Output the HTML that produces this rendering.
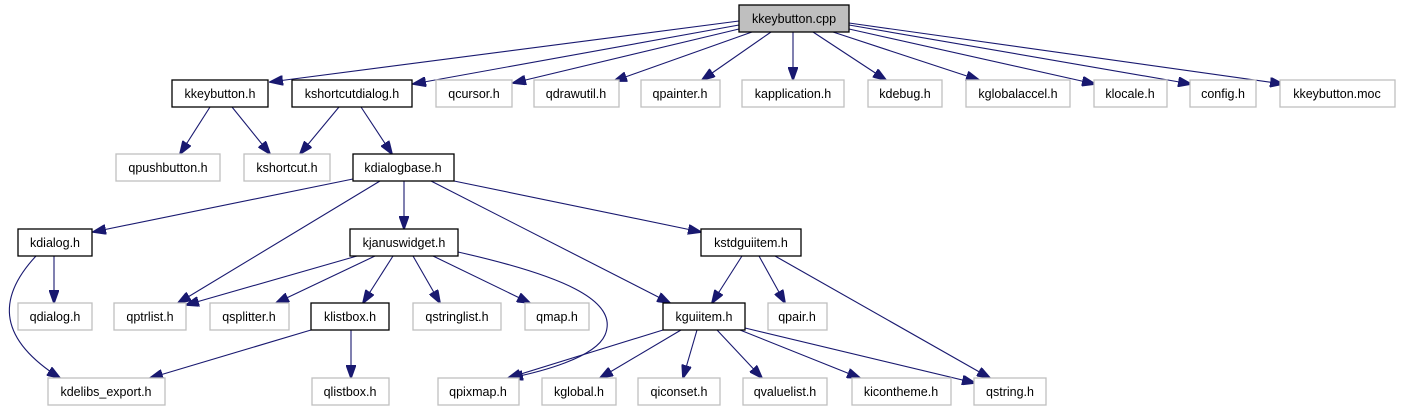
<!DOCTYPE html>
<html><head><meta charset="utf-8"><style>
html,body{margin:0;padding:0;background:#fff;}
svg{display:block;}
text{font-family:"Liberation Sans",sans-serif;font-size:12.5px;fill:#000;text-anchor:middle;}
.g{fill:#fff;stroke:#bfbfbf;stroke-width:1.3;}
.b{fill:#fff;stroke:#000;stroke-width:1.3;}
.e{fill:none;stroke:#191970;stroke-width:1.1;marker-end:url(#a);}
</style></head><body>
<svg width="1401" height="411" viewBox="0 0 1401 411">
<defs><marker id="a" markerWidth="14" markerHeight="10" refX="13" refY="5" orient="auto" markerUnits="userSpaceOnUse"><path d="M0,0 L14,5 L0,10 z" fill="#191970" stroke="#191970"/></marker></defs>
<g>
<path class="e" d="M739,21 L270,82"/>
<path class="e" d="M739,25 L413,84"/>
<path class="e" d="M739,29 L513,83"/>
<path class="e" d="M752,32 L614,81"/>
<path class="e" d="M771,32 L702,80"/>
<path class="e" d="M793,32 L793,80"/>
<path class="e" d="M813,32 L886,80"/>
<path class="e" d="M833,32 L979,80"/>
<path class="e" d="M849,29 L1095,84"/>
<path class="e" d="M849,25 L1191,84"/>
<path class="e" d="M849,23 L1283,84"/>
<path class="e" d="M210,107 L180,154"/>
<path class="e" d="M232,107 L270,154"/>
<path class="e" d="M339,107 L300,154"/>
<path class="e" d="M361,107 L392,154"/>
<path class="e" d="M353,179 L93,232"/>
<path class="e" d="M380,181 L178,303"/>
<path class="e" d="M404,181 L404,229"/>
<path class="e" d="M431,181 L670,303"/>
<path class="e" d="M454,181 L701,232"/>
<path class="e" d="M36,256 C-5,300 0,340 60,378"/>
<path class="e" d="M54,256 L54,303"/>
<path class="e" d="M357,256 L186,305"/>
<path class="e" d="M375,256 L276,303"/>
<path class="e" d="M393,256 L363,303"/>
<path class="e" d="M413,256 L440,303"/>
<path class="e" d="M433,256 L530,303"/>
<path class="e" d="M458,252 C560,275 620,300 605,335 C595,358 540,372 510,378"/>
<path class="e" d="M311,330 L150,378"/>
<path class="e" d="M351,330 L351,378"/>
<path class="e" d="M663,330 L508,378"/>
<path class="e" d="M681,330 L600,378"/>
<path class="e" d="M697,330 L683,378"/>
<path class="e" d="M742,256 L712,303"/>
<path class="e" d="M759,256 L785,303"/>
<path class="e" d="M775,256 L990,378"/>
<path class="e" d="M717,330 L762,378"/>
<path class="e" d="M740,330 L860,378"/>
<path class="e" d="M745,328 L975,383"/>
</g>
<rect x="739" y="5" width="110" height="27" fill="#bfbfbf" stroke="#000" stroke-width="1.3"/><text x="794" y="23">kkeybutton.cpp</text>
<rect class="b" x="172" y="80" width="96" height="27"/><text x="220" y="98">kkeybutton.h</text>
<rect class="b" x="292" y="80" width="120" height="27"/><text x="352" y="98">kshortcutdialog.h</text>
<rect class="g" x="436" y="80" width="76" height="27"/><text x="474" y="98">qcursor.h</text>
<rect class="g" x="534" y="80" width="85" height="27"/><text x="576" y="98">qdrawutil.h</text>
<rect class="g" x="641" y="80" width="79" height="27"/><text x="680" y="98">qpainter.h</text>
<rect class="g" x="742" y="80" width="102" height="27"/><text x="793" y="98">kapplication.h</text>
<rect class="g" x="868" y="80" width="74" height="27"/><text x="905" y="98">kdebug.h</text>
<rect class="g" x="966" y="80" width="104" height="27"/><text x="1018" y="98">kglobalaccel.h</text>
<rect class="g" x="1094" y="80" width="73" height="27"/><text x="1130" y="98">klocale.h</text>
<rect class="g" x="1190" y="80" width="66" height="27"/><text x="1223" y="98">config.h</text>
<rect class="g" x="1280" y="80" width="115" height="27"/><text x="1337" y="98">kkeybutton.moc</text>
<rect class="g" x="116" y="154" width="104" height="27"/><text x="168" y="172">qpushbutton.h</text>
<rect class="g" x="244" y="154" width="86" height="27"/><text x="287" y="172">kshortcut.h</text>
<rect class="b" x="353" y="154" width="101" height="27"/><text x="403" y="172">kdialogbase.h</text>
<rect class="b" x="18" y="229" width="74" height="27"/><text x="55" y="247">kdialog.h</text>
<rect class="b" x="350" y="229" width="108" height="27"/><text x="404" y="247">kjanuswidget.h</text>
<rect class="b" x="701" y="229" width="100" height="27"/><text x="751" y="247">kstdguiitem.h</text>
<rect class="g" x="18" y="303" width="74" height="27"/><text x="55" y="321">qdialog.h</text>
<rect class="g" x="114" y="303" width="72" height="27"/><text x="150" y="321">qptrlist.h</text>
<rect class="g" x="210" y="303" width="79" height="27"/><text x="249" y="321">qsplitter.h</text>
<rect class="b" x="311" y="303" width="78" height="27"/><text x="350" y="321">klistbox.h</text>
<rect class="g" x="413" y="303" width="88" height="27"/><text x="457" y="321">qstringlist.h</text>
<rect class="g" x="525" y="303" width="64" height="27"/><text x="557" y="321">qmap.h</text>
<rect class="b" x="663" y="303" width="82" height="27"/><text x="704" y="321">kguiitem.h</text>
<rect class="g" x="768" y="303" width="59" height="27"/><text x="797" y="321">qpair.h</text>
<rect class="g" x="48" y="378" width="117" height="27"/><text x="106" y="396">kdelibs_export.h</text>
<rect class="g" x="312" y="378" width="77" height="27"/><text x="350" y="396">qlistbox.h</text>
<rect class="g" x="438" y="378" width="81" height="27"/><text x="478" y="396">qpixmap.h</text>
<rect class="g" x="542" y="378" width="74" height="27"/><text x="579" y="396">kglobal.h</text>
<rect class="g" x="638" y="378" width="82" height="27"/><text x="679" y="396">qiconset.h</text>
<rect class="g" x="743" y="378" width="84" height="27"/><text x="785" y="396">qvaluelist.h</text>
<rect class="g" x="852" y="378" width="99" height="27"/><text x="901" y="396">kicontheme.h</text>
<rect class="g" x="974" y="378" width="72" height="27"/><text x="1010" y="396">qstring.h</text>
</svg>
</body></html>
